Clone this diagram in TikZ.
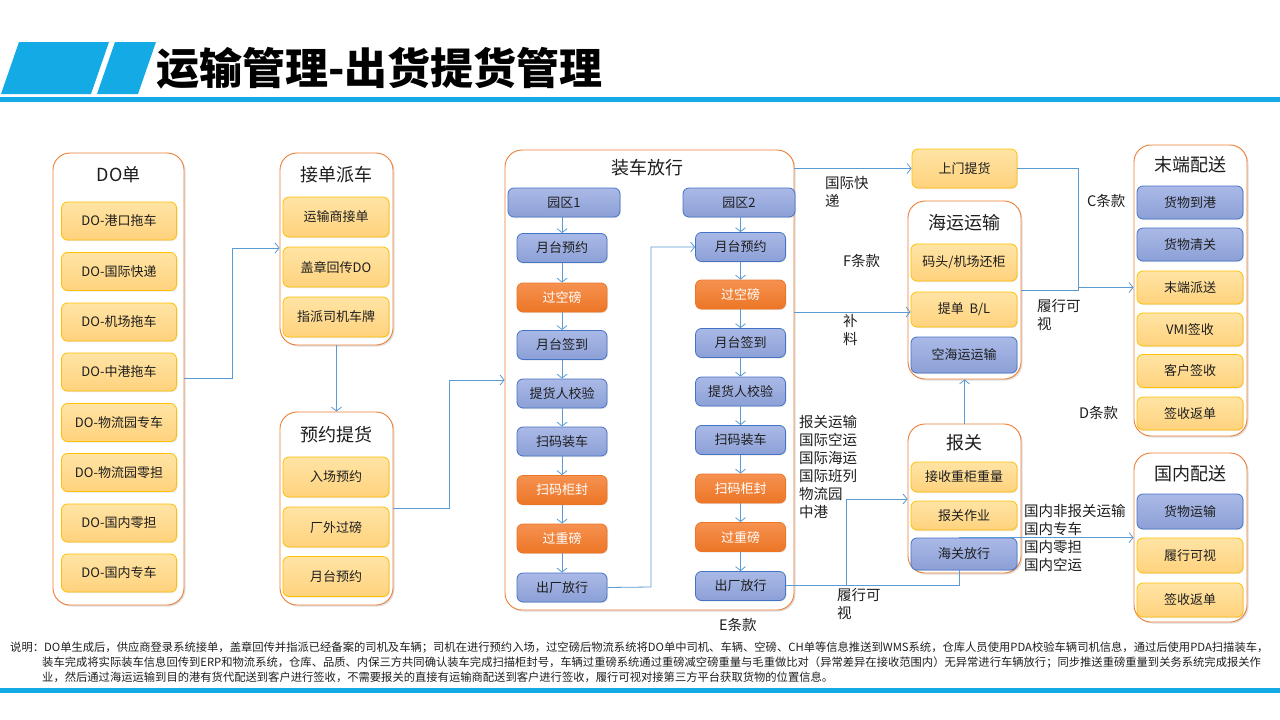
\documentclass[tikz,border=0pt]{standalone}
\usepackage{fontspec}
\setmainfont{Noto Sans CJK SC}
\usetikzlibrary{arrows.meta,shadows}
\definecolor{hblue}{RGB}{20,170,230}
\definecolor{corange}{RGB}{237,125,49}
\definecolor{cy1}{RGB}{255,228,165}
\definecolor{cy2}{RGB}{255,210,125}
\definecolor{cyb}{RGB}{255,192,0}
\definecolor{cb1}{RGB}{170,185,230}
\definecolor{cb2}{RGB}{140,160,215}
\definecolor{cbb}{RGB}{68,114,196}
\definecolor{co1}{RGB}{246,145,80}
\definecolor{co2}{RGB}{236,118,38}
\definecolor{lnk}{RGB}{91,155,213}
\definecolor{txt}{RGB}{30,30,30}
\begin{document}
\begin{tikzpicture}[x=1pt,y=-1pt,
  font=\fontsize{13}{15}\selectfont, text=txt,
  cont/.style={draw=corange, line width=0.9pt, fill=white, rounded corners=17pt,
    drop shadow={opacity=0.25,shadow xshift=1.5pt,shadow yshift=-1.5pt}},
  ttl/.style={font=\fontsize{18}{20}\selectfont, inner sep=0pt},
  item/.style={rounded corners=6pt, line width=0.8pt, inner sep=0pt,
    drop shadow={opacity=0.18,shadow xshift=1pt,shadow yshift=-1pt}},
  yb/.style={item, draw=cyb, top color=cy1, bottom color=cy2},
  bb/.style={item, draw=cbb, top color=cb1, bottom color=cb2},
  ob/.style={item, draw=co2, top color=co1, bottom color=co2, text=white},
  doi/.style={minimum width=115pt, minimum height=38pt},
  jdi/.style={minimum width=106pt, minimum height=40pt},
  coli/.style={minimum width=90pt, minimum height=29pt},
  rgi/.style={minimum width=106pt},
  conn/.style={draw=lnk, line width=0.8pt},
  arr/.style={conn, -{Straight Barb[length=4pt,width=10pt]}},
  lbl/.style={font=\fontsize{14.5}{18}\selectfont, align=left, inner sep=0pt, anchor=north west},
  note/.style={font=\fontsize{11.3}{12}\selectfont, inner sep=0pt, anchor=west}
]
\useasboundingbox (0,0) rectangle (1280,720);
% header
\fill[hblue] (19,42) -- (109,42) -- (91,94) -- (1,94) -- cycle;
\fill[hblue] (115,42) -- (156,42) -- (138,94) -- (97,94) -- cycle;
\node[anchor=west, inner sep=0pt, font=\fontsize{43}{45}\selectfont\bfseries, text=black] (title) at (156,68) {运输管理-出货提货管理};
\fill[hblue] (0,97) rectangle (1280,102);
\fill[hblue] (0,688) rectangle (1280,693);

% containers
\node[cont, minimum width=131pt, minimum height=452pt] (doC) at (118.5,379) {};
\node[cont, minimum width=113pt, minimum height=192pt] (jdC) at (336.5,249) {};
\node[cont, minimum width=113pt, minimum height=193pt] (yyC) at (336.5,508.5) {};
\node[cont, minimum width=289pt, minimum height=460pt] (zcC) at (649.5,380) {};
\node[cont, minimum width=113pt, minimum height=178pt] (hyC) at (964.5,290) {};
\node[cont, minimum width=113pt, minimum height=291pt] (mdC) at (1190.5,290.5) {};
\node[cont, minimum width=113pt, minimum height=149pt] (bgC) at (964.5,498.5) {};
\node[cont, minimum width=113pt, minimum height=169pt] (gnC) at (1190.5,537.5) {};

% titles
\node[ttl] (doT) at (118.5,175) {DO单};
\node[ttl] (jdT) at (336.5,175) {接单派车};
\node[ttl] (yyT) at (336.5,435) {预约提货};
\node[ttl] (zcT) at (647,168) {装车放行};
\node[ttl] (hyT) at (964.5,223) {海运运输};
\node[ttl] (mdT) at (1190.5,165) {末端配送};
\node[ttl] (bgT) at (964.5,443) {报关};
\node[ttl] (gnT) at (1190.5,474) {国内配送};

% DO items
\node[yb, doi] (do1) at (119,221) {DO-港口拖车};
\node[yb, doi] (do2) at (119,271.5) {DO-国际快递};
\node[yb, doi] (do3) at (119,322) {DO-机场拖车};
\node[yb, doi] (do4) at (119,372) {DO-中港拖车};
\node[yb, doi] (do5) at (119,422.5) {DO-物流园专车};
\node[yb, doi] (do6) at (119,472.5) {DO-物流园零担};
\node[yb, doi] (do7) at (119,523) {DO-国内零担};
\node[yb, doi] (do8) at (119,573) {DO-国内专车};

% 接单派车 / 预约提货
\node[yb, jdi] (jd1) at (336,217) {运输商接单};
\node[yb, jdi] (jd2) at (336,267) {盖章回传DO};
\node[yb, jdi] (jd3) at (336,317) {指派司机车牌};
\node[yb, jdi] (yy1) at (336,477) {入场预约};
\node[yb, jdi] (yy2) at (336,527) {厂外过磅};
\node[yb, jdi] (yy3) at (336,576.5) {月台预约};

% 装车放行 column 1
\node[bb, minimum width=112pt, minimum height=29pt] (p1) at (564,202.5) {园区1};
\node[bb, coli] (ca1) at (562,248) {月台预约};
\node[ob, coli] (ca2) at (562,297.5) {过空磅};
\node[bb, coli] (ca3) at (562,345) {月台签到};
\node[bb, coli] (ca4) at (562,393.5) {提货人校验};
\node[bb, coli] (ca5) at (562,441.5) {扫码装车};
\node[ob, coli] (ca6) at (562,490) {扫码柜封};
\node[ob, coli] (ca7) at (562,538.5) {过重磅};
\node[bb, coli] (ca8) at (562,587.5) {出厂放行};
% column 2
\node[bb, minimum width=112pt, minimum height=29pt] (p2) at (739,202.5) {园区2};
\node[bb, coli] (cb1) at (740.5,247) {月台预约};
\node[ob, coli] (cb2) at (740.5,294.5) {过空磅};
\node[bb, coli] (cb3) at (740.5,343) {月台签到};
\node[bb, coli] (cb4) at (740.5,391.5) {提货人校验};
\node[bb, coli] (cb5) at (740.5,440) {扫码装车};
\node[ob, coli] (cb6) at (740.5,488.5) {扫码柜封};
\node[ob, coli] (cb7) at (740.5,537) {过重磅};
\node[bb, coli] (cb8) at (740.5,586) {出厂放行};

% 上门提货
\node[yb, minimum width=105pt, minimum height=39pt] (sm) at (964.5,168.5) {上门提货};
% 海运运输
\node[yb, rgi, minimum height=37pt] (hy1) at (964,262.5) {码头/机场还柜};
\node[yb, rgi, minimum height=35pt] (hy2) at (964,309.5) {提单\ \ B/L};
\node[bb, rgi, minimum height=36pt] (hy3) at (964,355) {空海运运输};
% 末端配送
\node[bb, rgi, minimum height=33pt] (md1) at (1190,202.5) {货物到港};
\node[bb, rgi, minimum height=33pt] (md2) at (1190,244.5) {货物清关};
\node[yb, rgi, minimum height=33pt] (md3) at (1190,287.5) {末端派送};
\node[yb, rgi, minimum height=33pt] (md4) at (1190,329.5) {VMI签收};
\node[yb, rgi, minimum height=33pt] (md5) at (1190,371) {客户签收};
\node[yb, rgi, minimum height=33pt] (md6) at (1190,413.5) {签收返单};
% 报关
\node[yb, rgi, minimum height=30pt] (bg1) at (964,477) {接收重柜重量};
\node[yb, rgi, minimum height=29pt] (bg2) at (964,515.5) {报关作业};
\node[bb, rgi, minimum height=32pt] (bg3) at (964,554) {海关放行};
% 国内配送
\node[bb, rgi, minimum height=35pt] (gn1) at (1190,511.5) {货物运输};
\node[yb, rgi, minimum height=35pt] (gn2) at (1190,555.5) {履行可视};
\node[yb, rgi, minimum height=34pt] (gn3) at (1190,600) {签收返单};

% connectors
\coordinate (j1a) at (232,378);
\coordinate (j1b) at (232,248);
\draw[arr] (doC.east |- j1a) -- (j1a) -- (j1b) -- (jdC.west |- j1b);
\draw[arr] (jdC.south) -- (yyC.north);
\coordinate (j2a) at (449,508);
\coordinate (j2b) at (449,380);
\draw[arr] (yyC.east |- j2a) -- (j2a) -- (j2b) -- (zcC.west |- j2b);
\draw[arr] (p1.south -| ca1.north) -- (ca1.north);
\draw[arr] (p2.south -| cb1.north) -- (cb1.north);
\foreach \i/\j in {1/2,2/3,3/4,4/5,5/6,6/7,7/8}{
  \draw[arr] (ca\i.south) -- (ca\j.north);
  \draw[arr] (cb\i.south) -- (cb\j.north);
}
\coordinate (j3) at (651,587);
\draw[arr] (ca8.east) -- (j3) |- (cb1.west);
\draw[arr] (zcC.east |- sm.west) -- (sm.west);
\draw[arr] (zcC.east |- 0,312) -- (hy2.west |- 0,312);
\coordinate (j4) at (1078,287.5);
\draw[arr] (sm.east) -| (j4) -- (mdC.west |- j4);
\draw[conn] (hyC.east |- 0,290) -| (j4);
\draw[arr] (bgC.north) -- (hyC.south);
\coordinate (j5) at (846,585);
\coordinate (j6) at (959,585);
\draw[arr] (cb8.east |- j5) -- (j5) |- (bgC.west |- 0,499);
\draw[conn] (j5) -- (j6) -- (j6 |- bg3.south);
\draw[arr] (j6 |- bg3.north) -- (gnC.west |- bg3.north);

% labels
\node[lbl] (l1) at (825,176) {国际快\\递};
\node[lbl] (l2) at (843,254) {F条款};
\node[lbl] (l3) at (843,314) {补\\料};
\node[lbl] (l4) at (1087,194) {C条款};
\node[lbl] (l5) at (1037,299) {履行可\\视};
\node[lbl] (l6) at (1079,406) {D条款};
\node[lbl] (l7) at (799,415) {报关运输\\国际空运\\国际海运\\国际班列\\物流园\\中港};
\node[lbl] (l8) at (837,588) {履行可\\视};
\node[lbl] (l9) at (1024,504) {国内非报关运输\\国内专车\\国内零担\\国内空运};
\node[lbl] (l10) at (719,618) {E条款};

% note
\node[note] (n1) at (10,648) {说明：DO单生成后，供应商登录系统接单，盖章回传并指派已经备案的司机及车辆；司机在进行预约入场，过空磅后物流系统将DO单中司机、车辆、空磅、CH单等信息推送到WMS系统，仓库人员使用PDA校验车辆司机信息，通过后使用PDA扫描装车，};
\node[note] (n2) at (42,663) {装车完成将实际装车信息回传到ERP和物流系统，仓库、品质、内保三方共同确认装车完成扫描柜封号，车辆过重磅系统通过重磅减空磅重量与毛重做比对（异常差异在接收范围内）无异常进行车辆放行；同步推送重磅重量到关务系统完成报关作};
\node[note] (n3) at (42,677) {业，然后通过海运运输到目的港有货代配送到客户进行签收，不需要报关的直接有运输商配送到客户进行签收，履行可视对接第三方平台获取货物的位置信息。};
\end{tikzpicture}
\end{document}
